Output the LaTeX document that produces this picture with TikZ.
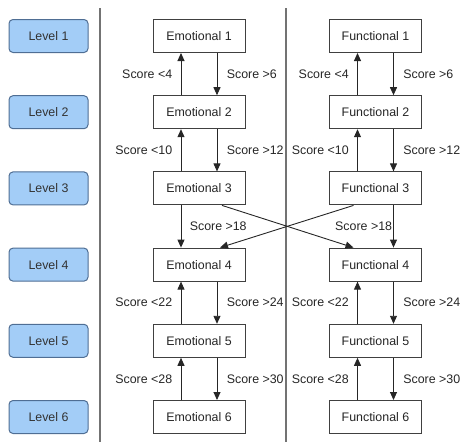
\documentclass[tikz,border=0pt]{standalone}
\usepackage{fontspec}
\setmainfont{Liberation Sans}
\usetikzlibrary{arrows.meta}

\definecolor{levelfill}{HTML}{A3CDF7}
\definecolor{leveldraw}{HTML}{4F6E94}

\tikzset{
  levelbox/.style={draw=leveldraw, fill=levelfill, rounded corners=4pt, minimum width=79pt, minimum height=33pt, line width=1pt, text=black!80},
  statebox/.style={draw=black!75, fill=white, minimum width=92pt, minimum height=33pt, line width=1pt, text=black!85},
  jump/.style={-{Triangle[length=8pt,width=7pt]}, line width=0.9pt, draw=black!85},
  scorelabel/.style={text=black!85}
}

\begin{document}
\begin{tikzpicture}[x=1pt, y=-1pt, font=\fontsize{12.4}{14}\selectfont]
        \useasboundingbox (0,0) rectangle (462,442);

        % Separators
        \draw[black!55, line width=1.5pt] (100,8) -- (100,442);
        \draw[black!55, line width=1.5pt] (286,8) -- (286,442);

        % Levels and states
        \foreach \i in {1,...,6} {
            \node[levelbox] (l\i) at (48.5,{36+(\i-1)*76.2}) {Level \i};
            \node[statebox] (e\i) at (199,{36+(\i-1)*76.2}) {Emotional \i};
            \node[statebox] (f\i) at (375.5,{36+(\i-1)*76.2}) {Functional \i};
        }

        % Up and down within a track
        \foreach \i/\j/\lo/\hi in {1/2/4/6, 2/3/10/12, 4/5/22/24, 5/6/28/30} {
            \draw[jump] ([xshift=-18pt]e\j.north) -- node[scorelabel, left, xshift=-5pt] {Score <\lo} ([xshift=-18pt]e\i.south);
            \draw[jump] ([xshift=18pt]e\i.south) -- node[scorelabel, right, xshift=6pt] {Score >\hi} ([xshift=18pt]e\j.north);
            \draw[jump] ([xshift=-18pt]f\j.north) -- node[scorelabel, left, xshift=-5pt] {Score <\lo} ([xshift=-18pt]f\i.south);
            \draw[jump] ([xshift=18pt]f\i.south) -- node[scorelabel, right, xshift=6pt] {Score >\hi} ([xshift=18pt]f\j.north);
        }

        % Level 3 to level 4
        \draw[jump] ([xshift=-18pt]e3.south) -- node[scorelabel, right, xshift=5pt] {Score >18} ([xshift=-18pt]e4.north);
        \draw[jump] ([xshift=18pt]f3.south) -- node[scorelabel, left, inner sep=1pt] {Score >18} ([xshift=18pt]f4.north);
        \draw[jump] ([xshift=23pt]e3.south) -- ([xshift=-22pt]f4.north);
        \draw[jump] ([xshift=-22pt]f3.south) -- ([xshift=21pt]e4.north);
    \end{tikzpicture}
\end{document}
